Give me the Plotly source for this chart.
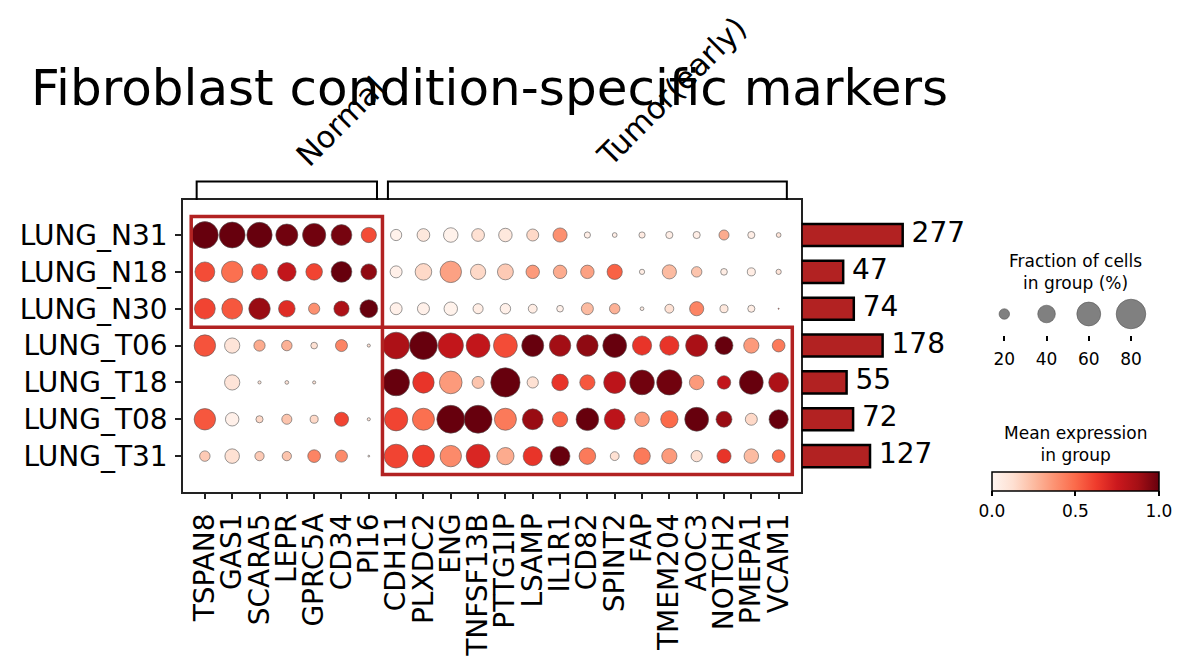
import numpy as np
import plotly.colors as pc
import plotly.graph_objects as go

W, H = 1187, 670
FONT = "DejaVu Sans"
RED = "#b22222"

# -- data --
groups = ["LUNG_N31", "LUNG_N18", "LUNG_N30", "LUNG_T06", "LUNG_T18", "LUNG_T08", "LUNG_T31"]
cell_counts = [277, 47, 74, 178, 55, 72, 127]

normal_genes = ["TSPAN8", "GAS1", "SCARA5", "LEPR", "GPRC5A", "CD34", "PI16"]
tumor_genes = ["CDH11", "PLXDC2", "ENG", "TNFSF13B", "PTTG1IP", "LSAMP", "IL1R1", "CD82",
               "SPINT2", "FAP", "TMEM204", "AOC3", "NOTCH2", "PMEPA1", "VCAM1"]
gene_group_labels = ["Normal", "Tumor(early)"]

# fraction of cells expressing (%), one list per group row
frac_N31 = [70, 67, 65, 54, 58, 50, 33, 22, 26, 31, 26, 28, 24, 30, 10, 7, 10, 12, 12, 19, 12, 7]
frac_N18 = [47, 52, 35, 43, 37, 50, 35, 24, 37, 52, 33, 35, 28, 28, 28, 33, 8, 30, 20, 11, 14, 8]
frac_N30 = [50, 50, 52, 37, 22, 33, 41, 24, 24, 28, 19, 20, 16, 11, 24, 20, 5, 16, 30, 14, 12, 1]
frac_T06 = [52, 33, 22, 20, 11, 24, 4, 70, 74, 65, 60, 60, 54, 52, 52, 60, 45, 45, 54, 41, 33, 26]
frac_T18 = [0, 33, 4, 5, 4, 0, 0, 70, 52, 56, 24, 79, 22, 37, 33, 54, 63, 65, 31, 28, 60, 47]
frac_T08 = [52, 28, 12, 19, 14, 30, 4, 58, 54, 74, 74, 54, 50, 33, 56, 50, 31, 39, 60, 35, 24, 45]
frac_T31 = [20, 31, 17, 17, 26, 24, 2, 60, 54, 52, 60, 39, 45, 47, 37, 16, 37, 33, 22, 30, 31, 26]

# mean expression in group (scaled 0-1)
expr_N31 = [1.0, 1.0, 1.0, 0.98, 0.98, 0.97, 0.58, 0.02, 0.08, 0.02, 0.12, 0.08, 0.15, 0.38,
            0.04, 0.04, 0.06, 0.04, 0.04, 0.3, 0.04, 0.1]
expr_N18 = [0.58, 0.48, 0.58, 0.78, 0.6, 1.0, 0.92, 0.03, 0.15, 0.33, 0.15, 0.2, 0.35, 0.3,
            0.33, 0.52, 0.05, 0.25, 0.22, 0.05, 0.05, 0.1]
expr_N30 = [0.6, 0.55, 0.9, 0.68, 0.38, 0.85, 1.0, 0.03, 0.03, 0.02, 0.05, 0.03, 0.05, 0.03,
            0.25, 0.28, 0.05, 0.12, 0.42, 0.08, 0.05, 0.6]
expr_T06 = [0.56, 0.1, 0.3, 0.28, 0.12, 0.42, 0.12, 0.85, 1.0, 0.78, 0.78, 0.58, 1.0, 0.88,
            0.92, 1.0, 0.65, 0.65, 0.86, 1.0, 0.35, 0.45]
expr_T18 = [0.0, 0.1, 0.1, 0.1, 0.1, 0.0, 0.0, 1.0, 0.65, 0.35, 0.22, 1.0, 0.12, 0.65,
            0.55, 0.8, 0.98, 0.98, 0.35, 0.78, 1.0, 0.85]
expr_T08 = [0.55, 0.03, 0.15, 0.22, 0.15, 0.6, 0.1, 0.6, 0.48, 1.0, 1.0, 0.45, 0.9, 0.52,
            1.0, 0.8, 0.35, 0.5, 1.0, 0.9, 0.15, 1.0]
expr_T31 = [0.2, 0.12, 0.2, 0.22, 0.42, 0.4, 0.1, 0.6, 0.62, 0.4, 0.7, 0.3, 0.65, 1.0,
            0.45, 0.12, 0.45, 0.35, 0.12, 0.65, 0.25, 0.5]

size_legend_values = [20, 40, 60, 80]

frac = [frac_N31, frac_N18, frac_N30, frac_T06, frac_T18, frac_T08, frac_T31]
expr = [expr_N31, expr_N18, expr_N30, expr_T06, expr_T18, expr_T08, expr_T31]
genes = normal_genes + tumor_genes


def dot_size(pct):
    # scanpy-style: area ~ fraction ** 1.5
    return 35.0 * (np.asarray(pct, dtype=float) / 100.0) ** 0.75


def px_x(p):
    return p / W


def px_y(p):
    return 1 - p / H


xs, ys, fs, cs = [], [], [], []
for r, (frow, erow) in enumerate(zip(frac, expr)):
    for c, (f, e) in enumerate(zip(frow, erow)):
        if f > 0:
            xs.append(c)
            ys.append(r)
            fs.append(f)
            cs.append(e)

fig = go.Figure()

fig.add_trace(
    go.Scatter(
        x=xs,
        y=ys,
        mode="markers",
        marker=dict(
            size=dot_size(fs),
            opacity=1,
            color=cs,
            colorscale=pc.sequential.Reds,
            cmin=0,
            cmax=1,
            line=dict(width=0.6, color="#555555"),
            showscale=True,
            colorbar=dict(
                orientation="h",
                x=px_x(1075.4),
                xanchor="center",
                y=px_y(471.7),
                yanchor="top",
                len=167,
                lenmode="pixels",
                thickness=19,
                thicknessmode="pixels",
                outlinewidth=1.5,
                outlinecolor="black",
                ticks="outside",
                ticklen=5,
                tickwidth=1.5,
                tickcolor="black",
                tickvals=[0, 0.5, 1.0],
                tickformat=".1f",
                tickfont=dict(size=17, color="black", family=FONT),
                xpad=0,
                ypad=0,
            ),
        ),
        hoverinfo="skip",
        showlegend=False,
    )
)

# totals bars (length ~ sqrt of count)
bar_len = np.sqrt(cell_counts)
fig.add_trace(
    go.Bar(
        x=bar_len,
        y=list(range(len(groups))),
        orientation="h",
        width=0.6,
        marker=dict(color=RED, line=dict(color="black", width=2.5)),
        xaxis="x2",
        yaxis="y",
        hoverinfo="skip",
        showlegend=False,
    )
)
fig.add_trace(
    go.Scatter(
        x=bar_len,
        y=list(range(len(groups))),
        mode="text",
        text=[f" {c}" for c in cell_counts],
        textposition="middle right",
        textfont=dict(size=28, color="black", family=FONT),
        xaxis="x2",
        yaxis="y",
        cliponaxis=False,
        hoverinfo="skip",
        showlegend=False,
    )
)

# size legend
fig.add_trace(
    go.Scatter(
        x=size_legend_values,
        y=[0.525] * len(size_legend_values),
        mode="markers",
        marker=dict(size=dot_size(size_legend_values), color="#808080", opacity=1,
                    line=dict(width=0.6, color="#555555")),
        xaxis="x3",
        yaxis="y3",
        cliponaxis=False,
        hoverinfo="skip",
        showlegend=False,
    )
)

shapes = []
annotations = []

# group brackets and highlight boxes
start = 0
n_rows_normal = sum(1 for g in groups if "_N" in g)
for label, glist in zip(gene_group_labels, [normal_genes, tumor_genes]):
    end = start + len(glist) - 1
    x0, x1 = start - 0.3, end + 0.3
    shapes.append(dict(
        type="path", xref="x", yref="paper",
        path=f"M {x0},{px_y(200)} L {x0},{px_y(181.5)} L {x1},{px_y(181.5)} L {x1},{px_y(200)}",
        line=dict(color="black", width=2),
    ))
    annotations.append(dict(
        x=(x0 + x1) / 2 + 0.0, y=px_y(176), xref="x", yref="paper",
        text=label, textangle=-45, showarrow=False,
        xanchor="left", yanchor="bottom",
        font=dict(size=30.5, color="black", family=FONT),
    ))
    if label == "Normal":
        r0, r1 = -0.5, n_rows_normal - 0.5
    else:
        r0, r1 = n_rows_normal - 0.5, len(groups) - 0.5
    shapes.append(dict(
        type="rect", xref="x", yref="y",
        x0=start - 0.5, x1=end + 0.5, y0=r0, y1=r1,
        line=dict(color=RED, width=3.5), layer="above",
    ))
    start = end + 1

annotations.append(dict(
    x=px_x(29), y=px_y(88), xref="paper", yref="paper",
    text="Fibroblast condition-specific markers", showarrow=False,
    xanchor="left", yanchor="middle",
    font=dict(size=50, color="black", family=FONT),
))
annotations.append(dict(
    x=px_x(1075), y=px_y(271.5), xref="paper", yref="paper",
    text="Fraction of cells<br>in group (%)", showarrow=False,
    xanchor="center", yanchor="middle", align="center",
    font=dict(size=17, color="black", family=FONT),
))
annotations.append(dict(
    x=px_x(1075), y=px_y(443.5), xref="paper", yref="paper",
    text="Mean expression<br>in group", showarrow=False,
    xanchor="center", yanchor="middle", align="center",
    font=dict(size=17, color="black", family=FONT),
))

axis_font = dict(size=28, color="black", family=FONT)

fig.update_layout(
    width=W,
    height=H,
    margin=dict(l=0, r=0, t=0, b=0),
    paper_bgcolor="white",
    plot_bgcolor="white",
    font=dict(family=FONT, color="black"),
    shapes=shapes,
    annotations=annotations,
    xaxis=dict(
        domain=[px_x(183), px_x(800.5)],
        range=[-0.8, 21.8],
        tickvals=list(range(len(genes))),
        ticktext=genes,
        tickangle=-90,
        tickfont=axis_font,
        ticks="outside",
        ticklen=6,
        tickwidth=1.5,
        tickcolor="#222222",
        ticklabelstandoff=3,
        showline=True,
        linecolor="#222222",
        linewidth=1.5,
        mirror=True,
        showgrid=False,
        zeroline=False,
        anchor="y",
    ),
    yaxis=dict(
        domain=[px_y(491.5), px_y(200)],
        range=[6.96, -0.95],
        tickvals=list(range(len(groups))),
        ticktext=groups,
        tickfont=axis_font,
        ticks="outside",
        ticklen=6,
        tickwidth=1.5,
        tickcolor="#222222",
        ticklabelstandoff=2,
        showline=True,
        linecolor="#222222",
        linewidth=1.5,
        mirror=True,
        showgrid=False,
        zeroline=False,
        anchor="x",
    ),
    xaxis2=dict(
        domain=[px_x(801.5), px_x(1000)],
        range=[0, (1000 - 801.5) / 6.08],
        visible=False,
        anchor="y",
    ),
    xaxis3=dict(
        domain=[px_x(980), px_x(1160)],
        range=[20 - (1004.3 - 980) / 2.11, 80 + (1160 - 1131) / 2.11],
        tickvals=size_legend_values,
        ticks="outside",
        ticklen=5,
        tickwidth=2,
        tickcolor="black",
        tickfont=dict(size=17, color="black", family=FONT),
        ticklabelstandoff=4,
        showline=False,
        showgrid=False,
        zeroline=False,
        anchor="y3",
    ),
    yaxis3=dict(
        domain=[px_y(335), px_y(295)],
        range=[0, 1],
        visible=False,
        anchor="x3",
    ),
)

fig.write_html(
    "out.html",
    config={"displayModeBar": False},
    post_script="document.body.style.margin = '0px';",
)
